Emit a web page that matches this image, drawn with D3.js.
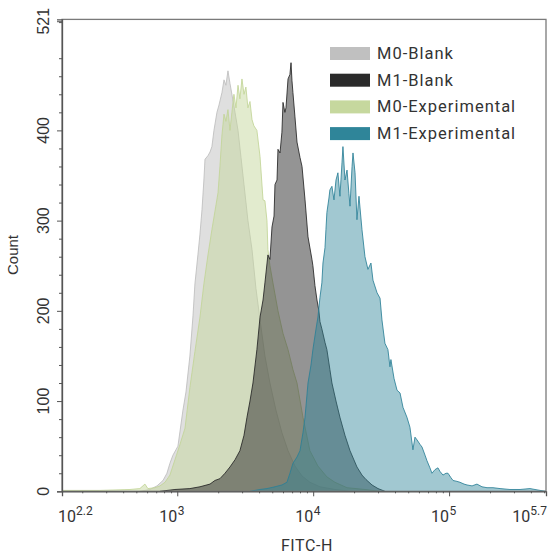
<html>
<script src="https://d3js.org/d3.v7.min.js"></script>
<body style="margin:0;background:#fff">
<svg id="chart" width="557" height="554"></svg>
<script>
// histogram data: x = log10(FITC-H), y = count
var m0BlankExp = [2.725, 2.799, 2.851, 2.895, 2.924, 2.946, 2.968, 3.005, 3.042, 3.064, 3.093, 3.116, 3.130, 3.152, 3.167, 3.182, 3.196, 3.204, 3.226, 3.241, 3.255, 3.270, 3.292, 3.307, 3.329, 3.344, 3.358, 3.373, 3.388, 3.402, 3.425, 3.447, 3.469, 3.491, 3.520, 3.550, 3.579, 3.609, 3.645, 3.682, 3.726, 3.770, 3.815, 3.866, 3.918, 3.976, 4.050, 4.160, 4.271];
var m0BlankCount = [0, 2, 6, 12, 20, 31, 40, 50, 90, 110, 150, 195, 230, 262, 285, 312, 345, 368, 372, 376, 382, 400, 420, 428, 442, 456, 450, 466, 452, 440, 420, 400, 370, 340, 300, 268, 225, 190, 150, 120, 90, 65, 45, 28, 17, 10, 5, 2, 0];

var m0ExpExp = [2.16, 2.431, 2.652, 2.725, 2.762, 2.784, 2.836, 2.873, 2.910, 2.946, 2.983, 3.020, 3.057, 3.093, 3.130, 3.167, 3.196, 3.226, 3.255, 3.277, 3.300, 3.314, 3.329, 3.344, 3.358, 3.373, 3.388, 3.402, 3.417, 3.432, 3.447, 3.461, 3.476, 3.491, 3.505, 3.520, 3.535, 3.550, 3.564, 3.586, 3.609, 3.631, 3.645, 3.660, 3.667, 3.682, 3.704, 3.741, 3.778, 3.815, 3.851, 3.881, 3.925, 3.976, 4.035, 4.101, 4.160, 4.249, 4.381, 4.492];
var m0ExpCount = [1, 1, 2, 3, 8, 3, 4, 6, 10, 18, 35, 52, 70, 115, 155, 193, 230, 262, 290, 310, 331, 360, 395, 418, 410, 423, 400, 420, 440, 425, 450, 435, 457, 440, 448, 425, 432, 412, 405, 400, 371, 323, 322, 300, 268, 250, 231, 200, 175, 157, 135, 120, 82, 45, 28, 16, 10, 4, 2, 0];

var m1BlankExp = [2.873, 2.983, 3.093, 3.167, 3.241, 3.277, 3.314, 3.351, 3.388, 3.425, 3.461, 3.491, 3.513, 3.535, 3.557, 3.586, 3.609, 3.631, 3.645, 3.667, 3.682, 3.697, 3.712, 3.719, 3.734, 3.741, 3.756, 3.770, 3.778, 3.792, 3.800, 3.815, 3.829, 3.837, 3.844, 3.851, 3.866, 3.881, 3.903, 3.918, 3.940, 3.962, 3.991, 3.998, 4.013, 4.028, 4.042, 4.050, 4.064, 4.087, 4.101, 4.123, 4.138, 4.168, 4.197, 4.234, 4.271, 4.322, 4.359, 4.389, 4.433, 4.477, 4.528];
var m1BlankCount = [0, 2, 3, 5, 8, 12, 14, 20, 27, 35, 45, 62, 82, 100, 120, 157, 193, 212, 231, 262, 257, 293, 305, 340, 345, 379, 375, 398, 431, 420, 425, 457, 462, 475, 455, 442, 415, 387, 370, 360, 323, 282, 257, 250, 228, 212, 200, 188, 180, 165, 157, 135, 120, 100, 82, 62, 45, 27, 18, 13, 7, 3, 0];

var m1ExpExp = [3.535, 3.609, 3.660, 3.719, 3.770, 3.807, 3.829, 3.851, 3.881, 3.903, 3.925, 3.940, 3.962, 3.984, 3.998, 4.021, 4.035, 4.050, 4.064, 4.072, 4.087, 4.094, 4.101, 4.116, 4.123, 4.138, 4.153, 4.168, 4.182, 4.197, 4.212, 4.219, 4.234, 4.249, 4.263, 4.271, 4.286, 4.293, 4.308, 4.322, 4.337, 4.359, 4.381, 4.403, 4.425, 4.440, 4.470, 4.492, 4.506, 4.528, 4.550, 4.565, 4.572, 4.595, 4.617, 4.639, 4.661, 4.690, 4.712, 4.734, 4.749, 4.764, 4.786, 4.801, 4.823, 4.837, 4.859, 4.874, 4.896, 4.918, 4.933, 4.955, 4.977, 4.992, 5.014, 5.029, 5.058, 5.080, 5.110, 5.132, 5.169, 5.205, 5.242, 5.279, 5.323, 5.375, 5.448, 5.522, 5.595, 5.632, 5.669, 5.713];
var m1ExpCount = [0, 2, 3, 5, 7, 10, 20, 31, 38, 45, 65, 82, 120, 140, 157, 180, 193, 215, 231, 253, 270, 290, 309, 325, 334, 338, 323, 345, 353, 327, 364, 382, 345, 356, 330, 316, 360, 375, 353, 301, 327, 290, 260, 246, 253, 234, 220, 214, 190, 164, 157, 138, 146, 125, 112, 109, 93, 82, 71, 46, 60, 57, 52, 49, 40, 34, 26, 20, 24, 26, 22, 18, 20, 20, 15, 12, 11, 10, 8, 7, 6, 8, 5, 4, 4, 3, 2, 2, 3, 2, 1, 0];

var seriesNames = ["M0-Blank", "M1-Blank", "M0-Experimental", "M1-Experimental"];
var yTicks = [0, 100, 200, 300, 400, 521];
var xMajorExp = [3, 4, 5];
var xEnds = [2.2, 5.7];

var pLeft = 62, pRight = 546, pTop = 19.4, pBottom = 491.3;

var svg = d3.select("#chart");

var x = d3.scaleLog()
    .domain([Math.pow(10, 2.152), Math.pow(10, 5.713)])
    .range([pLeft, pRight]);

var y = d3.scaleLinear()
    .domain([0, 523])
    .range([pBottom, pTop]);

var color = {}
color["M0-Blank"] = {fill: "#c0c0c0", stroke: "#bdbdbd", op: 0.5};
color["M1-Blank"] = {fill: "#2a2a2a", stroke: "#262626", op: 0.5};
color["M0-Experimental"] = {fill: "#c6d89e", stroke: "#c2d596", op: 0.5};
color["M1-Experimental"] = {fill: "#2f8599", stroke: "#2b8096", op: 0.45};

function pack(ex, ct) {
    return ex.map(function(e, i) { return {e: e, c: ct[i]}; });
}

var drawOrder = [
    {name: "M0-Blank", data: pack(m0BlankExp, m0BlankCount)},
    {name: "M0-Experimental", data: pack(m0ExpExp, m0ExpCount)},
    {name: "M1-Blank", data: pack(m1BlankExp, m1BlankCount)},
    {name: "M1-Experimental", data: pack(m1ExpExp, m1ExpCount)}
];

svg.append("clipPath").attr("id", "plotclip")
    .append("rect")
    .attr("x", pLeft).attr("y", pTop)
    .attr("width", pRight - pLeft).attr("height", pBottom - pTop);

var area = d3.area()
    .x(function(d) { return x(Math.pow(10, d.e)); })
    .y0(y(0))
    .y1(function(d) { return y(d.c); });

var line = d3.line()
    .x(function(d) { return x(Math.pow(10, d.e)); })
    .y(function(d) { return y(d.c); });

var plot = svg.append("g").attr("clip-path", "url(#plotclip)");

drawOrder.forEach(function(s) {
    var c = color[s.name];
    plot.append("path")
        .datum(s.data)
        .attr("d", area)
        .attr("fill", c.fill)
        .attr("fill-opacity", c.op);
    plot.append("path")
        .datum(s.data)
        .attr("d", line)
        .attr("fill", "none")
        .attr("stroke", c.stroke)
        .attr("stroke-opacity", 0.85)
        .attr("stroke-width", 1);
});

// frame
svg.append("rect")
    .attr("x", pLeft).attr("y", pTop)
    .attr("width", pRight - pLeft).attr("height", pBottom - pTop)
    .attr("fill", "none")
    .attr("stroke", "#7a7a7a")
    .attr("stroke-width", 1.3);

// x axis ticks
var xMinor = [];
for (var k = 2; k <= 5; k++) {
    for (var m = 2; m <= 9; m++) {
        var v = m * Math.pow(10, k);
        if (v > x.domain()[0] && v < x.domain()[1]) xMinor.push(v);
    }
}

svg.append("g")
    .attr("transform", "translate(0," + pBottom + ")")
    .call(d3.axisBottom(x).tickValues(xMinor).tickSize(2).tickFormat(""))
    .call(function(g) { g.select(".domain").remove(); g.selectAll("line").attr("stroke", "#555"); });

svg.append("g")
    .attr("transform", "translate(0," + pBottom + ")")
    .call(d3.axisBottom(x).tickValues(xMajorExp.map(function(e) { return Math.pow(10, e); })).tickSize(5).tickFormat(""))
    .call(function(g) { g.select(".domain").attr("stroke", "#555").attr("stroke-width", 1.3); g.selectAll("line").attr("stroke", "#555"); });

var labelY = 522;
var xl = svg.append("g").attr("font-family", "Roboto, sans-serif").attr("fill", "#333");

xMajorExp.forEach(function(e) {
    var px = x(Math.pow(10, e));
    xl.append("text").attr("x", px).attr("y", labelY)
        .attr("text-anchor", "end").attr("font-size", 16).text("10");
    xl.append("text").attr("x", px + 0.5).attr("y", labelY - 7)
        .attr("text-anchor", "start").attr("font-size", 12).text(e);
});

// end labels 10^2.2 and 10^5.7
var t0 = xl.append("text").attr("x", 58).attr("y", labelY).attr("font-size", 16);
t0.append("tspan").text("10");
t0.append("tspan").attr("font-size", 12).attr("dy", -7).text(xEnds[0]);

var t1 = xl.append("text").attr("x", pRight + 1).attr("y", labelY).attr("font-size", 16).attr("text-anchor", "end");
t1.append("tspan").text("10");
t1.append("tspan").attr("font-size", 12).attr("dy", -7).text(xEnds[1]);

// y axis
var yMinor = d3.range(20, 521, 20).filter(function(v) { return v % 100 !== 0; });

svg.append("g")
    .attr("transform", "translate(" + pLeft + ",0)")
    .call(d3.axisLeft(y).tickValues(yMinor).tickSize(3).tickFormat(""))
    .call(function(g) { g.select(".domain").remove(); g.selectAll("line").attr("stroke", "#555"); });

svg.append("g")
    .attr("transform", "translate(" + pLeft + ",0)")
    .call(d3.axisLeft(y).tickValues(yTicks).tickSize(5).tickFormat(""))
    .call(function(g) { g.select(".domain").attr("stroke", "#555").attr("stroke-width", 1.3); g.selectAll("line").attr("stroke", "#555"); });

svg.append("g")
    .selectAll("text")
    .data(yTicks)
    .enter()
    .append("text")
    .attr("transform", function(d) { return "translate(49," + y(d) + ") rotate(-90)"; })
    .attr("text-anchor", "middle")
    .attr("font-family", "Liberation Sans, Arial, sans-serif")
    .attr("font-size", 16)
    .attr("fill", "#333")
    .text(function(d) { return d; });

// axis titles
svg.append("text")
    .attr("transform", "translate(18,255) rotate(-90)")
    .attr("text-anchor", "middle")
    .attr("font-family", "Liberation Sans, Arial, sans-serif")
    .attr("font-size", 15)
    .attr("fill", "#333")
    .text("Count");

svg.append("text")
    .attr("x", 307)
    .attr("y", 551)
    .attr("text-anchor", "middle")
    .attr("font-family", "Roboto, sans-serif")
    .attr("font-size", 16)
    .attr("letter-spacing", 0.6)
    .attr("fill", "#333")
    .text("FITC-H");

// legend
var legend = svg.append("g").attr("transform", "translate(330,47)");
seriesNames.forEach(function(n, i) {
    legend.append("rect")
        .attr("x", 0).attr("y", i * 26.7)
        .attr("width", 40).attr("height", 13)
        .attr("fill", color[n].fill);
    legend.append("text")
        .attr("x", 47).attr("y", i * 26.7 + 12)
        .attr("font-family", "Roboto, sans-serif")
        .attr("font-size", 16.5)
        .attr("letter-spacing", 1)
        .attr("fill", "#333")
        .text(n);
});
</script>
</body>
</html>
